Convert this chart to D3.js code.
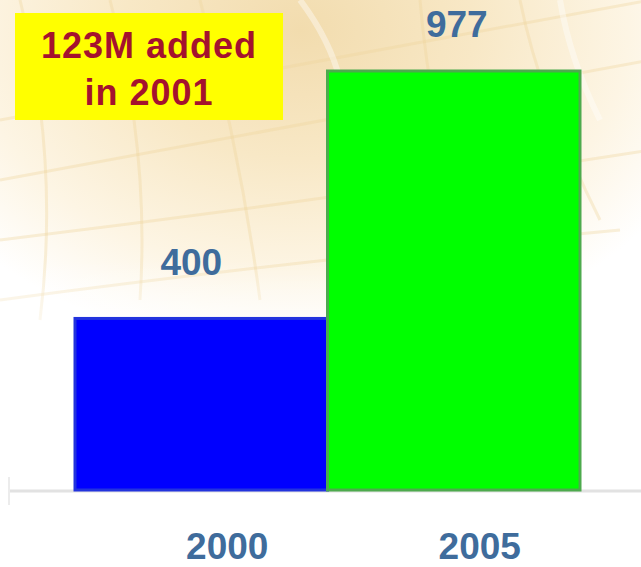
<!DOCTYPE html>
<html><head><meta charset="utf-8">
<script src="https://cdn.jsdelivr.net/npm/d3@7"></script>
<style>html,body{margin:0;padding:0;background:#fff;overflow:hidden}</style>
</head><body>
<script>
const categories = ["2000", "2005"];
const values = [400, 977];
const barColors = ["#0000ff", "#00ff00"];
const barStrokes = ["#2233dd", "#4daa4d"];
const noteLines = ["123M added", "in 2001"];

const W = 641, H = 567;
const svg = d3.select("body").append("svg").attr("width", W).attr("height", H);
const defs = svg.append("defs");
const rg = defs.append("radialGradient").attr("id","bg")
  .attr("gradientUnits","userSpaceOnUse").attr("cx",300).attr("cy",30).attr("r",380)
  .attr("gradientTransform","translate(300,30) scale(1.15,0.85) translate(-300,-30)");
rg.append("stop").attr("offset","0").attr("stop-color","#f2dcae");
rg.append("stop").attr("offset","0.4").attr("stop-color","#f8e8c6");
rg.append("stop").attr("offset","0.75").attr("stop-color","#fdf5e4");
rg.append("stop").attr("offset","1").attr("stop-color","#ffffff");
svg.append("rect").attr("width",W).attr("height",H).attr("fill","url(#bg)");

// faint decorative curved grid
const deco = svg.append("g").attr("fill","none").attr("stroke","#efd49c").attr("stroke-opacity",0.35).attr("stroke-width",3);
[[0,180,330,120,650,60],[0,240,330,200,650,150],[0,300,300,260,620,230],[0,120,320,60,650,0]].forEach(p=>{
  deco.append("path").attr("d",`M${p[0]},${p[1]} Q${p[2]},${p[3]} ${p[4]},${p[5]}`);
});
[[20,0,60,160,40,320],[110,0,150,150,140,300],[200,0,240,150,260,300],[420,0,430,120,470,260],[520,0,540,100,600,220]].forEach(p=>{
  deco.append("path").attr("d",`M${p[0]},${p[1]} Q${p[2]},${p[3]} ${p[4]},${p[5]}`);
});
const streaks = svg.append("g").attr("fill","none").attr("stroke","#ffffff").attr("stroke-opacity",0.4).attr("stroke-width",6);
[[300,0,330,40,340,80],[560,0,570,60,600,120]].forEach(p=>{
  streaks.append("path").attr("d",`M${p[0]},${p[1]} Q${p[2]},${p[3]} ${p[4]},${p[5]}`);
});
// fade lower part to white
const lg = defs.append("linearGradient").attr("id","fade").attr("x1",0).attr("y1",0).attr("x2",0).attr("y2",1);
lg.append("stop").attr("offset","0").attr("stop-color","#fff").attr("stop-opacity",0);
lg.append("stop").attr("offset","1").attr("stop-color","#fff").attr("stop-opacity",1);
svg.append("rect").attr("x",0).attr("y",260).attr("width",W).attr("height",110).attr("fill","url(#fade)");
svg.append("rect").attr("x",0).attr("y",370).attr("width",W).attr("height",H-370).attr("fill","#fff");

const x = d3.scaleBand().domain(categories).range([75, 580]).padding(0);
const y = d3.scaleLinear().domain([0, 977]).range([490, 71]);

// axis baseline
svg.append("line").attr("x1",9).attr("x2",W).attr("y1",491).attr("y2",491)
  .attr("stroke","#e2e2e2").attr("stroke-width",3);
svg.append("line").attr("x1",9).attr("x2",9).attr("y1",477).attr("y2",505)
  .attr("stroke","#ececec").attr("stroke-width",2);

svg.selectAll("rect.bar").data(categories).enter().append("rect").attr("class","bar")
  .attr("x", d => x(d)).attr("y", (d,i) => y(values[i]))
  .attr("width", x.bandwidth()).attr("height", (d,i) => y(0) - y(values[i]))
  .attr("fill", (d,i) => barColors[i]).attr("stroke", (d,i) => barStrokes[i]).attr("stroke-width",3);

const valOff = [-10, 3];
const valGap = [43, 34];
svg.selectAll("text.val").data(categories).enter().append("text").attr("class","val")
  .attr("x", (d,i) => x(d) + x.bandwidth()/2 + valOff[i])
  .attr("y", (d,i) => y(values[i]) - valGap[i])
  .attr("text-anchor","middle").attr("font-family","Liberation Sans, Arial, sans-serif")
  .attr("font-weight","bold").attr("font-size",37).attr("fill","#3f6c9c")
  .text((d,i) => values[i]);

svg.selectAll("text.cat").data(categories).enter().append("text").attr("class","cat")
  .attr("x", d => x(d) + x.bandwidth()/2 + 26)
  .attr("y", 559)
  .attr("text-anchor","middle").attr("font-family","Liberation Sans, Arial, sans-serif")
  .attr("font-weight","bold").attr("font-size",37).attr("fill","#3f6c9c")
  .text(d => d);

// note box
svg.append("rect").attr("x",15).attr("y",13).attr("width",268).attr("height",107).attr("fill","#ffff00");
svg.selectAll("text.note").data(noteLines).enter().append("text").attr("class","note")
  .attr("x",149).attr("y",(d,i) => 58 + i*47)
  .attr("text-anchor","middle").attr("font-family","Liberation Sans, Arial, sans-serif")
  .attr("font-weight","bold").attr("font-size",36).attr("letter-spacing",1).attr("fill","#a4122e")
  .text(d => d);
</script>
</body></html>
